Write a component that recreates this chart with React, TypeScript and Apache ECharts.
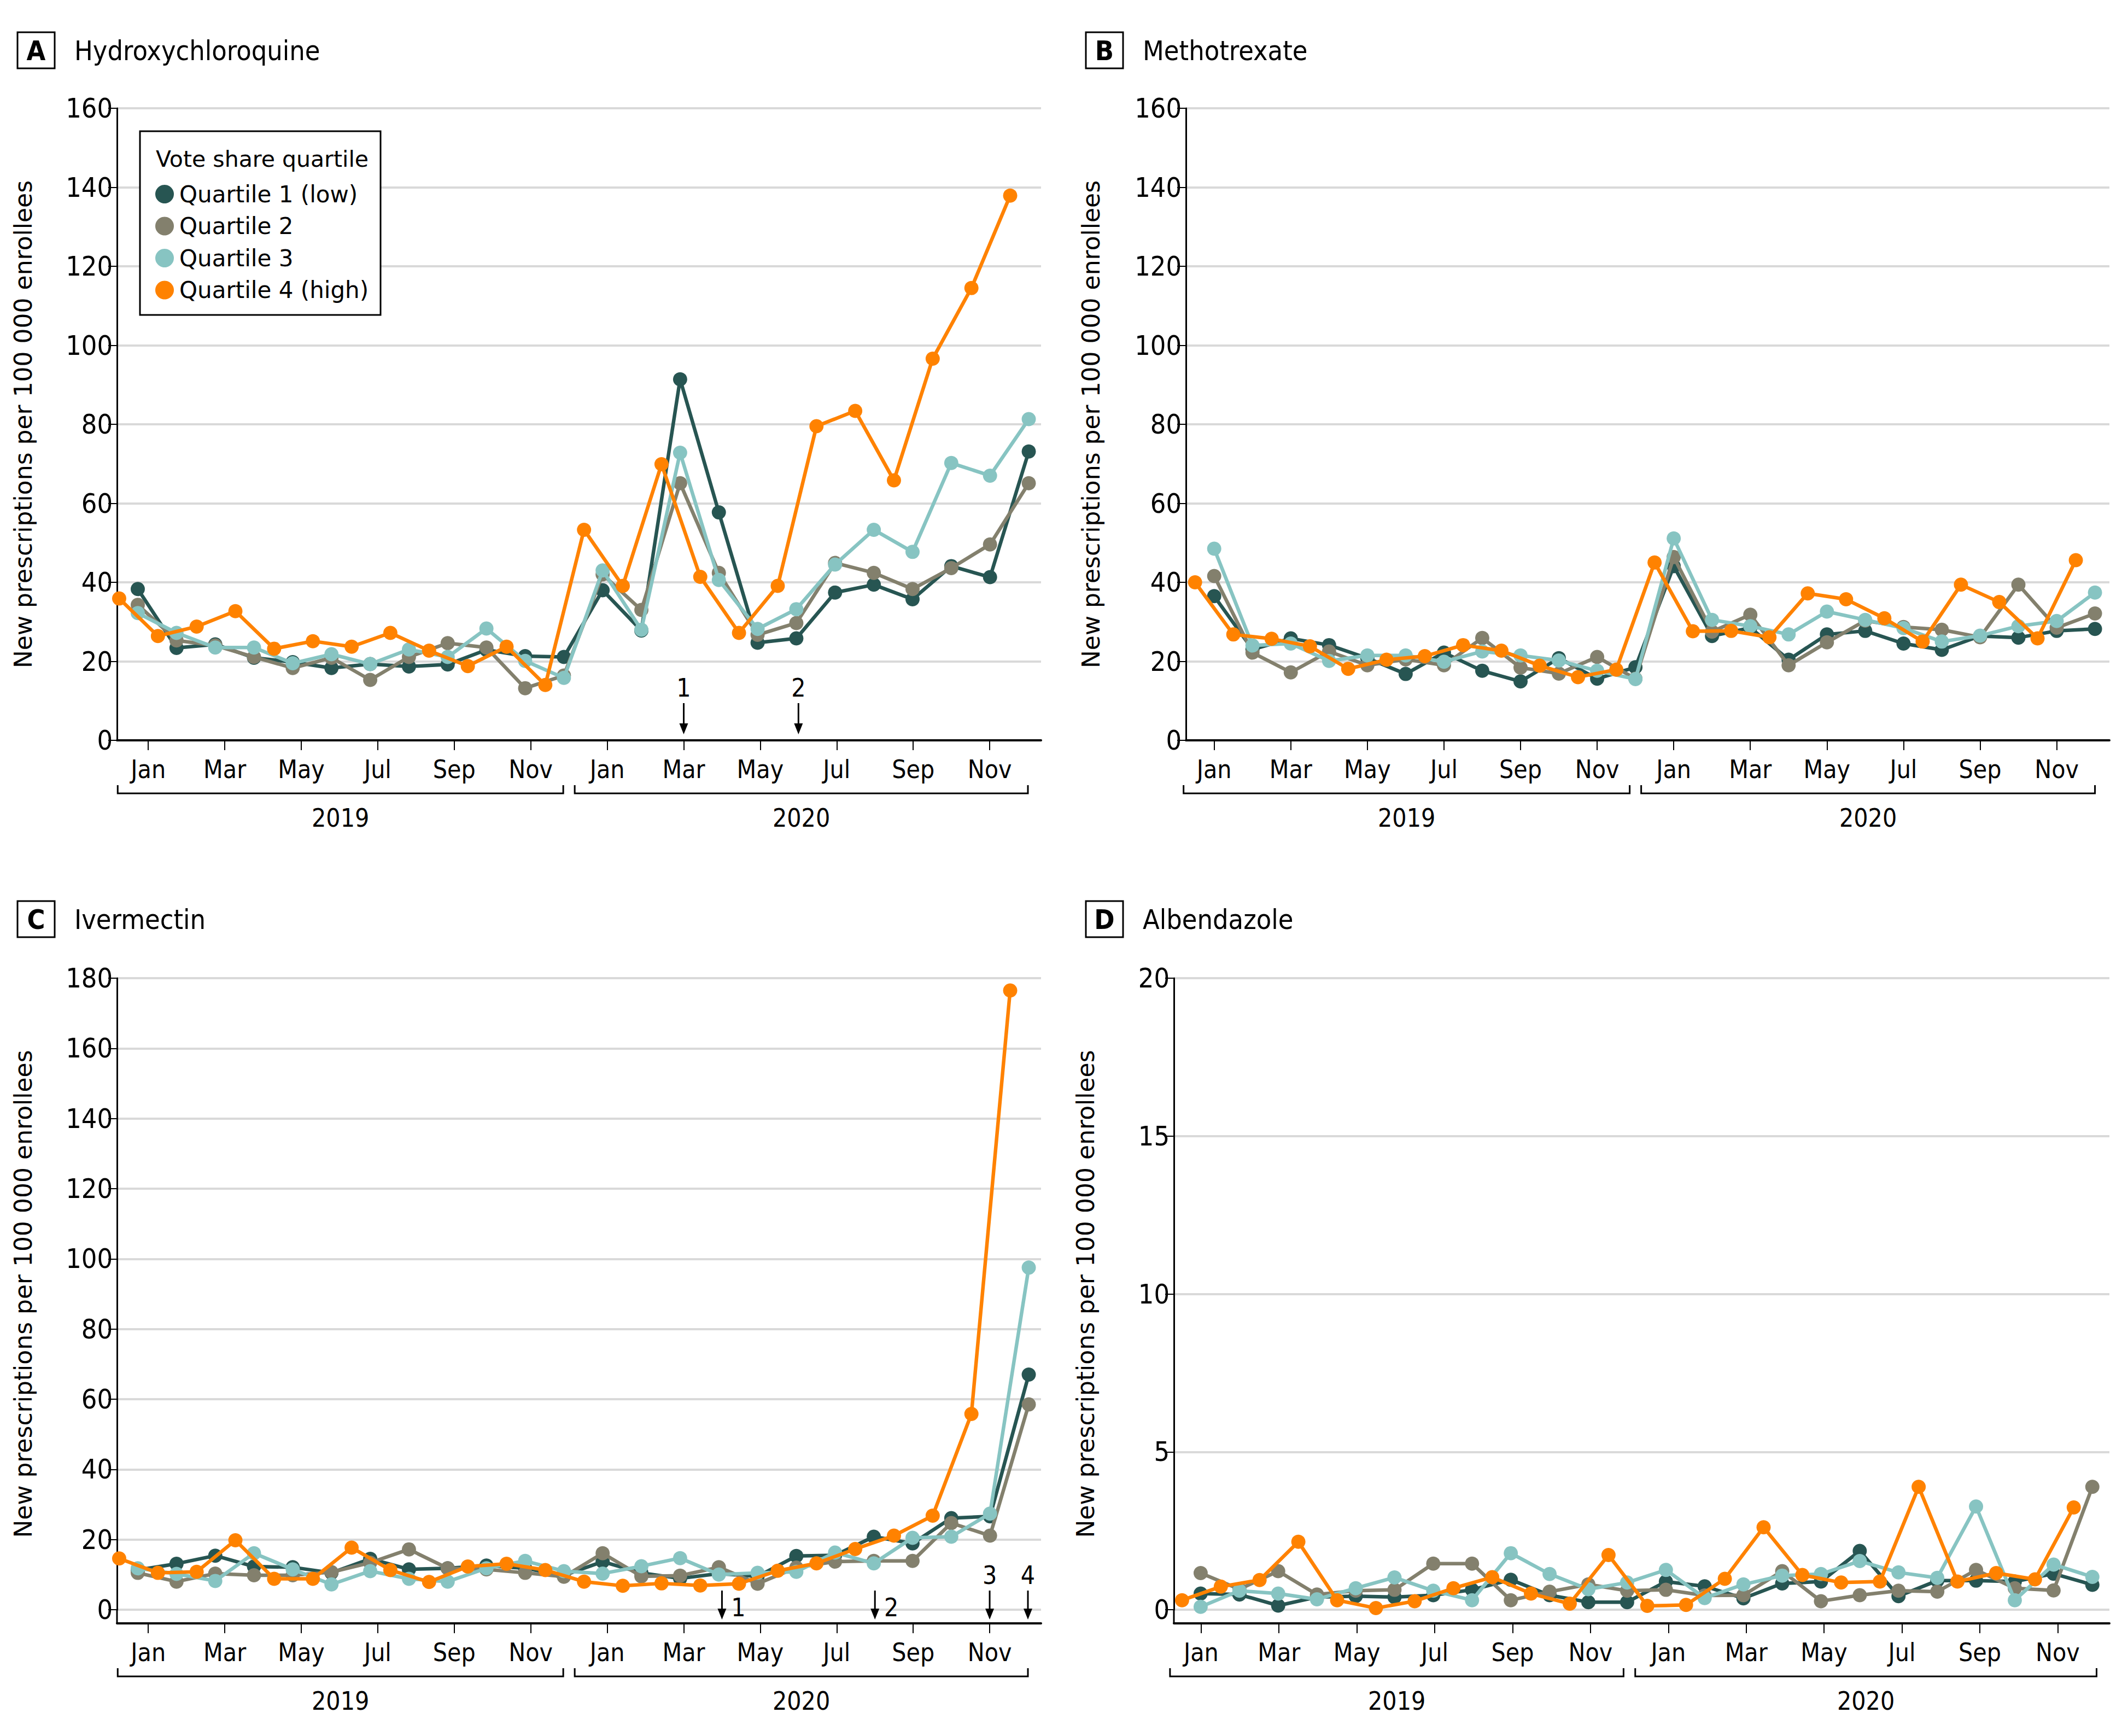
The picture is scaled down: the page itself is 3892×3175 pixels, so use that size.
import React, { useEffect, useRef } from "react";
import * as echarts from "echarts";

const WIDTH = 3892;
const HEIGHT = 3175;

// ---------- data ----------
const quartileNames = ["Quartile 1 (low)", "Quartile 2", "Quartile 3", "Quartile 4 (high)"];
const quartileColors = ["#275552", "#83806d", "#87c4c2", "#ff8200"];
const monthTickValues = [0, 2, 4, 6, 8, 10, 12, 14, 16, 18, 20, 22];
const monthTickLabels = ["Jan", "Mar", "May", "Jul", "Sep", "Nov", "Jan", "Mar", "May", "Jul", "Sep", "Nov"];
const yearLabels = ["2019", "2020"];
const yearStart = [-0.8, 11.15];
const yearEnd = [10.85, 23.0];
const yTitle = "New prescriptions per 100 000 enrollees";
const legendTitle = "Vote share quartile";

// A Hydroxychloroquine
const hcqQ1 = [38.3, 23.4, 24.3, 20.9, 19.8, 18.3, 19.3, 18.7, 19.2, 22.9, 21.3, 21.1, 38.0, 27.8, 91.4, 57.7, 24.7, 25.8, 37.4, 39.4, 35.7, 44.1, 41.3, 73.1];
const hcqQ2 = [34.3, 25.3, 24.0, 21.1, 18.3, 20.9, 15.3, 21.1, 24.6, 23.5, 13.2, 16.4, 42.0, 33.0, 65.1, 42.4, 26.7, 29.7, 44.9, 42.4, 38.3, 43.6, 49.6, 65.1];
const hcqQ3 = [32.2, 27.2, 23.5, 23.5, 19.5, 21.8, 19.3, 23.0, 21.1, 28.3, 20.1, 15.8, 43.0, 28.0, 72.8, 40.6, 28.2, 33.2, 44.5, 53.3, 47.7, 70.2, 67.0, 81.3];
const hcqQ4 = [35.9, 26.4, 28.8, 32.7, 23.2, 25.1, 23.7, 27.2, 22.7, 18.8, 23.7, 14.0, 53.3, 39.1, 69.9, 41.4, 27.2, 39.1, 79.5, 83.4, 65.8, 96.6, 114.5, 137.9];

// B Methotrexate
const mtxQ1 = [36.5, 23.0, 25.8, 24.1, 20.8, 16.8, 22.2, 17.6, 14.9, 20.8, 15.6, 18.5, 44.1, 26.4, 28.5, 20.4, 26.8, 27.7, 24.5, 22.9, 26.4, 26.0, 27.7, 28.2];
const mtxQ2 = [41.6, 22.2, 17.2, 22.5, 19.0, 20.5, 19.0, 25.9, 18.4, 16.9, 21.1, 15.6, 46.4, 27.5, 31.8, 19.0, 24.8, 30.3, 28.7, 28.0, 26.1, 39.4, 28.5, 32.1];
const mtxQ3 = [48.5, 24.0, 24.5, 20.1, 21.5, 21.5, 19.9, 22.5, 21.5, 20.2, 17.6, 15.5, 51.1, 30.5, 28.9, 26.8, 32.6, 30.5, 28.4, 25.0, 26.5, 28.9, 30.2, 37.4];
const mtxQ4 = [40.0, 26.8, 25.7, 23.8, 18.1, 20.4, 21.3, 24.1, 22.7, 18.9, 16.0, 17.9, 45.0, 27.6, 27.7, 26.1, 37.2, 35.7, 30.9, 25.0, 39.4, 35.0, 25.8, 45.6];

// C Ivermectin
const ivmQ1 = [11.3, 13.1, 15.4, 12.3, 12.1, 10.5, 14.5, 11.5, 11.8, 12.6, 11.8, 9.8, 13.7, 10.5, 8.9, 10.3, 9.5, 15.3, 15.5, 20.8, 18.9, 26.1, 26.6, 67.0];
const ivmQ2 = [10.5, 8.0, 10.3, 9.8, 9.8, 10.7, 13.4, 17.2, 11.8, 11.5, 10.5, 9.4, 16.1, 9.5, 9.7, 12.1, 7.4, 12.0, 13.7, 13.9, 13.9, 24.7, 21.1, 58.5];
const ivmQ3 = [11.8, 10.2, 8.2, 16.1, 11.5, 7.2, 11.0, 8.8, 8.0, 11.8, 13.9, 11.0, 10.3, 12.4, 14.7, 10.0, 10.5, 10.8, 16.3, 13.2, 20.5, 20.8, 27.4, 97.5];
const ivmQ4 = [14.6, 10.5, 10.8, 19.8, 8.8, 8.8, 17.7, 11.3, 7.9, 12.3, 13.1, 11.3, 8.0, 6.8, 7.5, 6.9, 7.4, 11.1, 13.2, 17.3, 21.1, 26.8, 55.8, 176.5];

// D Albendazole
const albQ1 = [0.51, 0.48, 0.13, 0.40, 0.43, 0.40, 0.46, 0.63, 0.95, 0.46, 0.24, 0.24, 0.89, 0.74, 0.36, 0.83, 0.89, 1.86, 0.43, 0.92, 0.92, 0.89, 1.14, 0.79];
const albQ2 = [1.16, 0.65, 1.22, 0.48, 0.60, 0.63, 1.46, 1.46, 0.30, 0.57, 0.80, 0.60, 0.63, 0.45, 0.46, 1.22, 0.27, 0.46, 0.60, 0.57, 1.26, 0.68, 0.61, 3.89];
const albQ3 = [0.09, 0.60, 0.51, 0.33, 0.68, 1.02, 0.60, 0.30, 1.79, 1.13, 0.65, 0.86, 1.26, 0.37, 0.80, 1.08, 1.13, 1.54, 1.18, 1.01, 3.27, 0.30, 1.43, 1.04];
const albQ4 = [0.30, 0.73, 0.94, 2.15, 0.30, 0.05, 0.27, 0.68, 1.03, 0.51, 0.19, 1.73, 0.12, 0.15, 0.98, 2.61, 1.10, 0.86, 0.89, 3.89, 0.89, 1.16, 0.96, 3.24];

// annotation arrows: month index and label
const hcqArrowMonths = [14, 17];
const hcqArrowLabels = ["1", "2"];
const ivmArrowMonths = [15, 19, 22, 23];
const ivmArrowLabels = ["1", "2", "3", "4"];

// ---------- layout ----------
const NARROW = "'Liberation Sans Narrow', 'DejaVu Sans Condensed', 'Liberation Sans', sans-serif";
const WIDE = "'DejaVu Sans', 'Noto Sans', sans-serif";

const panels = [
  {
    letter: "A", title: "Hydroxychloroquine",
    series: [hcqQ1, hcqQ2, hcqQ3, hcqQ4],
    yMax: 160, yInterval: 20,
    grid: { left: 214, top: 198, width: 1690, height: 1156 },
    monthRange: [-0.818, 23.343], dataRange: [-0.536, 23.317], q4Shift: -0.48,
    axisOffset: 0, nameGap: 150, box: [32, 59],
    arrows: hcqArrowMonths, arrowLabels: hcqArrowLabels, arrowTop: 1286, arrowBottom: 1343,
    arrowLabelPos: ["top", "top"],
  },
  {
    letter: "B", title: "Methotrexate",
    series: [mtxQ1, mtxQ2, mtxQ3, mtxQ4],
    yMax: 160, yInterval: 20,
    grid: { left: 2169, top: 198, width: 1689, height: 1156 },
    monthRange: [-0.738, 23.377], dataRange: [-0.738, 23.377], q4Shift: -0.5,
    axisOffset: 0, nameGap: 152, box: [1986, 59],
    arrows: [], arrowLabels: [], arrowTop: 0, arrowBottom: 0, arrowLabelPos: [],
  },
  {
    letter: "C", title: "Ivermectin",
    series: [ivmQ1, ivmQ2, ivmQ3, ivmQ4],
    yMax: 180, yInterval: 20,
    grid: { left: 214, top: 1789, width: 1690, height: 1155 },
    monthRange: [-0.818, 23.343], dataRange: [-0.536, 23.317], q4Shift: -0.48,
    axisOffset: 25, nameGap: 150, box: [32, 1648],
    arrows: ivmArrowMonths, arrowLabels: ivmArrowLabels, arrowTop: 2909, arrowBottom: 2962,
    arrowLabelPos: ["right", "right", "top", "top"],
  },
  {
    letter: "D", title: "Albendazole",
    series: [albQ1, albQ2, albQ3, albQ4],
    yMax: 20, yInterval: 5,
    grid: { left: 2147, top: 1789, width: 1711, height: 1155 },
    monthRange: [-0.70, 23.33], dataRange: [-0.69, 23.44], q4Shift: -0.48,
    axisOffset: 25, nameGap: 140, box: [1986, 1648],
    arrows: [], arrowLabels: [], arrowTop: 0, arrowBottom: 0, arrowLabelPos: [],
  },
];

function buildOption() {
  const grids: any[] = [];
  const xAxes: any[] = [];
  const yAxes: any[] = [];
  const series: any[] = [];
  panels.forEach((p, k) => {
    grids.push({ left: p.grid.left, top: p.grid.top, width: p.grid.width, height: p.grid.height, containLabel: false });
    xAxes.push({
      type: "value", gridIndex: k, min: p.monthRange[0], max: p.monthRange[1],
      position: "bottom", offset: p.axisOffset,
      axisLine: { show: true, onZero: false, lineStyle: { color: "#000", width: 4 } },
      axisTick: { show: true, length: 18, lineStyle: { color: "#000", width: 2 }, customValues: monthTickValues },
      axisLabel: {
        customValues: monthTickValues,
        formatter: (v: number) => monthTickLabels[monthTickValues.indexOf(Math.round(v))] ?? "",
        fontSize: 46, fontFamily: NARROW, color: "#000", margin: 30,
      },
      splitLine: { show: false },
    });
    xAxes.push({
      type: "value", gridIndex: k, min: p.dataRange[0], max: p.dataRange[1], show: false,
      axisLine: { onZero: false },
    });
    yAxes.push({
      type: "value", gridIndex: k, min: 0, max: p.yMax, interval: p.yInterval,
      position: "left",
      axisLine: { show: true, onZero: false, lineStyle: { color: "#000", width: 3 } },
      axisTick: { show: true, length: 16, lineStyle: { color: "#000", width: 2 } },
      axisLabel: { fontSize: 50, fontFamily: NARROW, color: "#000", margin: 8 },
      splitLine: { show: true, lineStyle: { color: "#d9d9d9", width: 4 } },
      name: yTitle, nameLocation: "middle", nameGap: p.nameGap, nameRotate: 90,
      nameTextStyle: { fontSize: 44, fontFamily: WIDE, color: "#000" },
    });
    p.series.forEach((vals, q) => {
      const shift = q === 3 ? p.q4Shift : 0;
      series.push({
        type: "line", name: quartileNames[q],
        xAxisIndex: 2 * k + 1, yAxisIndex: k,
        data: vals.map((v, i) => [i + shift, v]),
        symbol: "circle", symbolSize: 26, showSymbol: true,
        lineStyle: { width: 6.5, color: quartileColors[q] },
        itemStyle: { color: quartileColors[q] },
        emphasis: { disabled: true },
        z: 2 + q,
        clip: false,
      });
    });
  });
  return {
    animation: false,
    backgroundColor: "#fff",
    grid: grids,
    xAxis: xAxes,
    yAxis: yAxes,
    series,
    legend: {
      data: quartileNames, orient: "vertical", left: 279, top: 329,
      itemWidth: 44, itemHeight: 34, itemGap: 16.5, icon: "circle",
      textStyle: { fontSize: 42, fontFamily: WIDE, color: "#000" },
      selectedMode: false, z: 20,
    },
  };
}

function buildGraphics(chart: any) {
  const g: any[] = [];
  // legend frame and title
  g.push({ type: "rect", z: 10, shape: { x: 256, y: 240, width: 440, height: 336 }, style: { fill: "#fff", stroke: "#000", lineWidth: 3 } });
  g.push({ type: "text", z: 21, style: { text: legendTitle, x: 285, y: 291, fontSize: 41, fontFamily: WIDE, fill: "#000", textAlign: "left", textVerticalAlign: "middle" } });

  panels.forEach((p, k) => {
    const toX = (m: number) => chart.convertToPixel({ xAxisIndex: 2 * k }, m);
    const axisY = p.grid.top + p.grid.height + p.axisOffset;
    // panel letter box and title
    g.push({ type: "rect", shape: { x: p.box[0], y: p.box[1], width: 68, height: 66 }, style: { fill: "#fff", stroke: "#000", lineWidth: 3 } });
    g.push({ type: "text", style: { text: p.letter, x: p.box[0] + 34, y: p.box[1] + 34, fontSize: 50, fontWeight: "bold", fontFamily: NARROW, fill: "#000", textAlign: "center", textVerticalAlign: "middle" } });
    g.push({ type: "text", style: { text: p.title, x: p.box[0] + 104, y: p.box[1] + 34, fontSize: 50, fontFamily: NARROW, fill: "#000", textAlign: "left", textVerticalAlign: "middle" } });
    // y axis extension to offset x axis
    if (p.axisOffset > 0) {
      g.push({ type: "line", shape: { x1: p.grid.left, y1: p.grid.top + p.grid.height, x2: p.grid.left, y2: axisY }, style: { stroke: "#000", lineWidth: 3 } });
    }
    // year brackets
    const by = axisY + 97;
    yearLabels.forEach((yl, j) => {
      const x0 = toX(yearStart[j]);
      const x1 = toX(yearEnd[j]);
      g.push({ type: "polyline", shape: { points: [[x0, by - 15], [x0, by], [x1, by], [x1, by - 15]] }, style: { stroke: "#000", lineWidth: 3, fill: null } });
      g.push({ type: "text", style: { text: yl, x: (x0 + x1) / 2, y: axisY + 142, fontSize: 46, fontFamily: NARROW, fill: "#000", textAlign: "center", textVerticalAlign: "middle" } });
    });
    // arrows
    p.arrows.forEach((m, j) => {
      const x = toX(m);
      g.push({ type: "line", shape: { x1: x, y1: p.arrowTop, x2: x, y2: p.arrowBottom - 12 }, style: { stroke: "#000", lineWidth: 3 } });
      g.push({ type: "polygon", shape: { points: [[x - 8, p.arrowBottom - 20], [x + 8, p.arrowBottom - 20], [x, p.arrowBottom]] }, style: { fill: "#000" } });
      const pos = p.arrowLabelPos[j];
      const lx = pos === "right" ? x + 30 : x;
      const ly = pos === "right" ? (p.arrowTop + p.arrowBottom) / 2 + 4 : p.arrowTop - 28;
      g.push({ type: "text", style: { text: p.arrowLabels[j], x: lx, y: ly, fontSize: 46, fontFamily: NARROW, fill: "#000", textAlign: "center", textVerticalAlign: "middle" } });
    });
  });
  return g;
}

export default function App() {
  const ref = useRef<HTMLDivElement>(null);
  useEffect(() => {
    document.body.style.margin = "0";
    if (!ref.current) return;
    const chart = echarts.init(ref.current, null, { renderer: "svg", width: WIDTH, height: HEIGHT });
    chart.setOption(buildOption() as any);
    chart.setOption({ graphic: buildGraphics(chart) } as any);
    return () => chart.dispose();
  }, []);
  return <div ref={ref} style={{ width: WIDTH, height: HEIGHT }} />;
}
